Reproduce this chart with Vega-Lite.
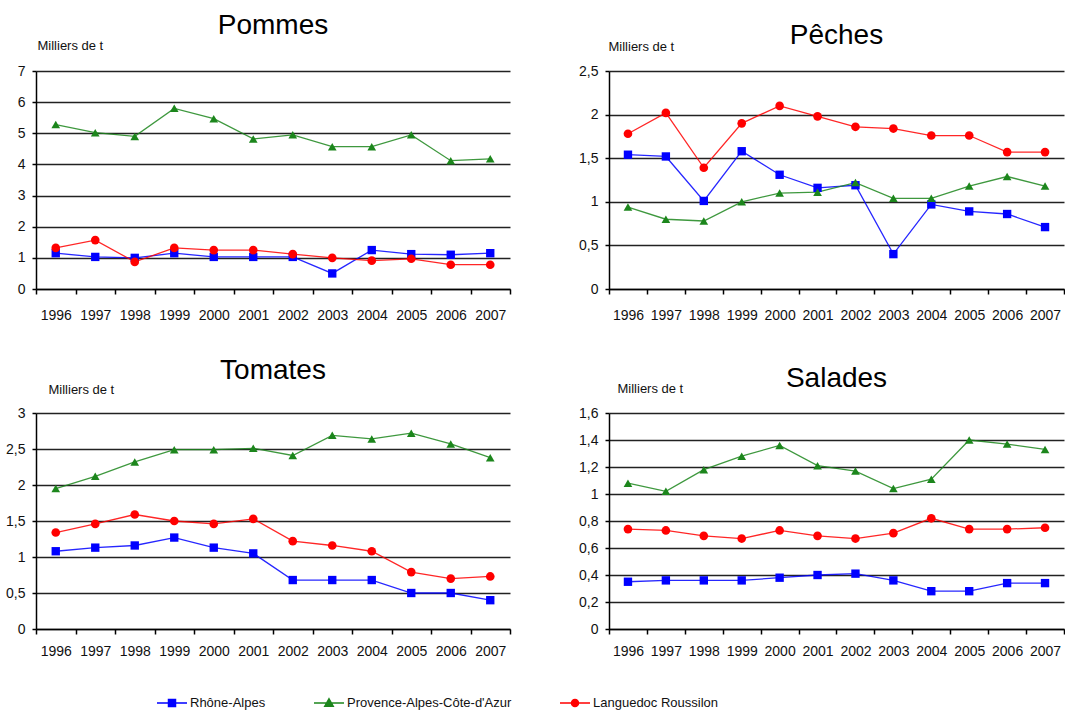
{
"$schema": "https://vega.github.io/schema/vega-lite/v6.json",
"background": "white",
"padding": {"left": 5, "top": 12, "right": 0, "bottom": 5},
"bounds": "flush",
"columns": 2,
"spacing": {"row": 124, "column": 99},
"data": {"values": [
{"f":"Pommes","r":"Rhône-Alpes","a":"1996","v":1.15},{"f":"Pommes","r":"Rhône-Alpes","a":"1997","v":1.03},{"f":"Pommes","r":"Rhône-Alpes","a":"1998","v":1.0},{"f":"Pommes","r":"Rhône-Alpes","a":"1999","v":1.15},{"f":"Pommes","r":"Rhône-Alpes","a":"2000","v":1.03},{"f":"Pommes","r":"Rhône-Alpes","a":"2001","v":1.03},{"f":"Pommes","r":"Rhône-Alpes","a":"2002","v":1.03},{"f":"Pommes","r":"Rhône-Alpes","a":"2003","v":0.5},{"f":"Pommes","r":"Rhône-Alpes","a":"2004","v":1.25},{"f":"Pommes","r":"Rhône-Alpes","a":"2005","v":1.12},{"f":"Pommes","r":"Rhône-Alpes","a":"2006","v":1.1},{"f":"Pommes","r":"Rhône-Alpes","a":"2007","v":1.15},
{"f":"Pommes","r":"Provence-Alpes-Côte-d'Azur","a":"1996","v":5.28},{"f":"Pommes","r":"Provence-Alpes-Côte-d'Azur","a":"1997","v":5.02},{"f":"Pommes","r":"Provence-Alpes-Côte-d'Azur","a":"1998","v":4.9},{"f":"Pommes","r":"Provence-Alpes-Côte-d'Azur","a":"1999","v":5.8},{"f":"Pommes","r":"Provence-Alpes-Côte-d'Azur","a":"2000","v":5.47},{"f":"Pommes","r":"Provence-Alpes-Côte-d'Azur","a":"2001","v":4.82},{"f":"Pommes","r":"Provence-Alpes-Côte-d'Azur","a":"2002","v":4.95},{"f":"Pommes","r":"Provence-Alpes-Côte-d'Azur","a":"2003","v":4.57},{"f":"Pommes","r":"Provence-Alpes-Côte-d'Azur","a":"2004","v":4.57},{"f":"Pommes","r":"Provence-Alpes-Côte-d'Azur","a":"2005","v":4.95},{"f":"Pommes","r":"Provence-Alpes-Côte-d'Azur","a":"2006","v":4.12},{"f":"Pommes","r":"Provence-Alpes-Côte-d'Azur","a":"2007","v":4.18},
{"f":"Pommes","r":"Languedoc Roussilon","a":"1996","v":1.32},{"f":"Pommes","r":"Languedoc Roussilon","a":"1997","v":1.57},{"f":"Pommes","r":"Languedoc Roussilon","a":"1998","v":0.87},{"f":"Pommes","r":"Languedoc Roussilon","a":"1999","v":1.32},{"f":"Pommes","r":"Languedoc Roussilon","a":"2000","v":1.25},{"f":"Pommes","r":"Languedoc Roussilon","a":"2001","v":1.25},{"f":"Pommes","r":"Languedoc Roussilon","a":"2002","v":1.12},{"f":"Pommes","r":"Languedoc Roussilon","a":"2003","v":1.0},{"f":"Pommes","r":"Languedoc Roussilon","a":"2004","v":0.91},{"f":"Pommes","r":"Languedoc Roussilon","a":"2005","v":0.97},{"f":"Pommes","r":"Languedoc Roussilon","a":"2006","v":0.78},{"f":"Pommes","r":"Languedoc Roussilon","a":"2007","v":0.78},
{"f":"Pêches","r":"Rhône-Alpes","a":"1996","v":1.54},{"f":"Pêches","r":"Rhône-Alpes","a":"1997","v":1.52},{"f":"Pêches","r":"Rhône-Alpes","a":"1998","v":1.01},{"f":"Pêches","r":"Rhône-Alpes","a":"1999","v":1.58},{"f":"Pêches","r":"Rhône-Alpes","a":"2000","v":1.31},{"f":"Pêches","r":"Rhône-Alpes","a":"2001","v":1.16},{"f":"Pêches","r":"Rhône-Alpes","a":"2002","v":1.19},{"f":"Pêches","r":"Rhône-Alpes","a":"2003","v":0.4},{"f":"Pêches","r":"Rhône-Alpes","a":"2004","v":0.97},{"f":"Pêches","r":"Rhône-Alpes","a":"2005","v":0.89},{"f":"Pêches","r":"Rhône-Alpes","a":"2006","v":0.86},{"f":"Pêches","r":"Rhône-Alpes","a":"2007","v":0.71},
{"f":"Pêches","r":"Provence-Alpes-Côte-d'Azur","a":"1996","v":0.94},{"f":"Pêches","r":"Provence-Alpes-Côte-d'Azur","a":"1997","v":0.8},{"f":"Pêches","r":"Provence-Alpes-Côte-d'Azur","a":"1998","v":0.78},{"f":"Pêches","r":"Provence-Alpes-Côte-d'Azur","a":"1999","v":1.0},{"f":"Pêches","r":"Provence-Alpes-Côte-d'Azur","a":"2000","v":1.1},{"f":"Pêches","r":"Provence-Alpes-Côte-d'Azur","a":"2001","v":1.11},{"f":"Pêches","r":"Provence-Alpes-Côte-d'Azur","a":"2002","v":1.22},{"f":"Pêches","r":"Provence-Alpes-Côte-d'Azur","a":"2003","v":1.04},{"f":"Pêches","r":"Provence-Alpes-Côte-d'Azur","a":"2004","v":1.04},{"f":"Pêches","r":"Provence-Alpes-Côte-d'Azur","a":"2005","v":1.18},{"f":"Pêches","r":"Provence-Alpes-Côte-d'Azur","a":"2006","v":1.29},{"f":"Pêches","r":"Provence-Alpes-Côte-d'Azur","a":"2007","v":1.18},
{"f":"Pêches","r":"Languedoc Roussilon","a":"1996","v":1.78},{"f":"Pêches","r":"Languedoc Roussilon","a":"1997","v":2.02},{"f":"Pêches","r":"Languedoc Roussilon","a":"1998","v":1.39},{"f":"Pêches","r":"Languedoc Roussilon","a":"1999","v":1.9},{"f":"Pêches","r":"Languedoc Roussilon","a":"2000","v":2.1},{"f":"Pêches","r":"Languedoc Roussilon","a":"2001","v":1.98},{"f":"Pêches","r":"Languedoc Roussilon","a":"2002","v":1.86},{"f":"Pêches","r":"Languedoc Roussilon","a":"2003","v":1.84},{"f":"Pêches","r":"Languedoc Roussilon","a":"2004","v":1.76},{"f":"Pêches","r":"Languedoc Roussilon","a":"2005","v":1.76},{"f":"Pêches","r":"Languedoc Roussilon","a":"2006","v":1.57},{"f":"Pêches","r":"Languedoc Roussilon","a":"2007","v":1.57},
{"f":"Tomates","r":"Rhône-Alpes","a":"1996","v":1.08},{"f":"Tomates","r":"Rhône-Alpes","a":"1997","v":1.13},{"f":"Tomates","r":"Rhône-Alpes","a":"1998","v":1.16},{"f":"Tomates","r":"Rhône-Alpes","a":"1999","v":1.27},{"f":"Tomates","r":"Rhône-Alpes","a":"2000","v":1.13},{"f":"Tomates","r":"Rhône-Alpes","a":"2001","v":1.05},{"f":"Tomates","r":"Rhône-Alpes","a":"2002","v":0.68},{"f":"Tomates","r":"Rhône-Alpes","a":"2003","v":0.68},{"f":"Tomates","r":"Rhône-Alpes","a":"2004","v":0.68},{"f":"Tomates","r":"Rhône-Alpes","a":"2005","v":0.5},{"f":"Tomates","r":"Rhône-Alpes","a":"2006","v":0.5},{"f":"Tomates","r":"Rhône-Alpes","a":"2007","v":0.4},
{"f":"Tomates","r":"Provence-Alpes-Côte-d'Azur","a":"1996","v":1.95},{"f":"Tomates","r":"Provence-Alpes-Côte-d'Azur","a":"1997","v":2.12},{"f":"Tomates","r":"Provence-Alpes-Côte-d'Azur","a":"1998","v":2.32},{"f":"Tomates","r":"Provence-Alpes-Côte-d'Azur","a":"1999","v":2.49},{"f":"Tomates","r":"Provence-Alpes-Côte-d'Azur","a":"2000","v":2.49},{"f":"Tomates","r":"Provence-Alpes-Côte-d'Azur","a":"2001","v":2.51},{"f":"Tomates","r":"Provence-Alpes-Côte-d'Azur","a":"2002","v":2.41},{"f":"Tomates","r":"Provence-Alpes-Côte-d'Azur","a":"2003","v":2.69},{"f":"Tomates","r":"Provence-Alpes-Côte-d'Azur","a":"2004","v":2.64},{"f":"Tomates","r":"Provence-Alpes-Côte-d'Azur","a":"2005","v":2.72},{"f":"Tomates","r":"Provence-Alpes-Côte-d'Azur","a":"2006","v":2.57},{"f":"Tomates","r":"Provence-Alpes-Côte-d'Azur","a":"2007","v":2.38},
{"f":"Tomates","r":"Languedoc Roussilon","a":"1996","v":1.34},{"f":"Tomates","r":"Languedoc Roussilon","a":"1997","v":1.46},{"f":"Tomates","r":"Languedoc Roussilon","a":"1998","v":1.59},{"f":"Tomates","r":"Languedoc Roussilon","a":"1999","v":1.5},{"f":"Tomates","r":"Languedoc Roussilon","a":"2000","v":1.46},{"f":"Tomates","r":"Languedoc Roussilon","a":"2001","v":1.53},{"f":"Tomates","r":"Languedoc Roussilon","a":"2002","v":1.22},{"f":"Tomates","r":"Languedoc Roussilon","a":"2003","v":1.16},{"f":"Tomates","r":"Languedoc Roussilon","a":"2004","v":1.08},{"f":"Tomates","r":"Languedoc Roussilon","a":"2005","v":0.79},{"f":"Tomates","r":"Languedoc Roussilon","a":"2006","v":0.7},{"f":"Tomates","r":"Languedoc Roussilon","a":"2007","v":0.73},
{"f":"Salades","r":"Rhône-Alpes","a":"1996","v":0.35},{"f":"Salades","r":"Rhône-Alpes","a":"1997","v":0.36},{"f":"Salades","r":"Rhône-Alpes","a":"1998","v":0.36},{"f":"Salades","r":"Rhône-Alpes","a":"1999","v":0.36},{"f":"Salades","r":"Rhône-Alpes","a":"2000","v":0.38},{"f":"Salades","r":"Rhône-Alpes","a":"2001","v":0.4},{"f":"Salades","r":"Rhône-Alpes","a":"2002","v":0.41},{"f":"Salades","r":"Rhône-Alpes","a":"2003","v":0.36},{"f":"Salades","r":"Rhône-Alpes","a":"2004","v":0.28},{"f":"Salades","r":"Rhône-Alpes","a":"2005","v":0.28},{"f":"Salades","r":"Rhône-Alpes","a":"2006","v":0.34},{"f":"Salades","r":"Rhône-Alpes","a":"2007","v":0.34},
{"f":"Salades","r":"Provence-Alpes-Côte-d'Azur","a":"1996","v":1.08},{"f":"Salades","r":"Provence-Alpes-Côte-d'Azur","a":"1997","v":1.02},{"f":"Salades","r":"Provence-Alpes-Côte-d'Azur","a":"1998","v":1.18},{"f":"Salades","r":"Provence-Alpes-Côte-d'Azur","a":"1999","v":1.28},{"f":"Salades","r":"Provence-Alpes-Côte-d'Azur","a":"2000","v":1.36},{"f":"Salades","r":"Provence-Alpes-Côte-d'Azur","a":"2001","v":1.21},{"f":"Salades","r":"Provence-Alpes-Côte-d'Azur","a":"2002","v":1.17},{"f":"Salades","r":"Provence-Alpes-Côte-d'Azur","a":"2003","v":1.04},{"f":"Salades","r":"Provence-Alpes-Côte-d'Azur","a":"2004","v":1.11},{"f":"Salades","r":"Provence-Alpes-Côte-d'Azur","a":"2005","v":1.4},{"f":"Salades","r":"Provence-Alpes-Côte-d'Azur","a":"2006","v":1.37},{"f":"Salades","r":"Provence-Alpes-Côte-d'Azur","a":"2007","v":1.33},
{"f":"Salades","r":"Languedoc Roussilon","a":"1996","v":0.74},{"f":"Salades","r":"Languedoc Roussilon","a":"1997","v":0.73},{"f":"Salades","r":"Languedoc Roussilon","a":"1998","v":0.69},{"f":"Salades","r":"Languedoc Roussilon","a":"1999","v":0.67},{"f":"Salades","r":"Languedoc Roussilon","a":"2000","v":0.73},{"f":"Salades","r":"Languedoc Roussilon","a":"2001","v":0.69},{"f":"Salades","r":"Languedoc Roussilon","a":"2002","v":0.67},{"f":"Salades","r":"Languedoc Roussilon","a":"2003","v":0.71},{"f":"Salades","r":"Languedoc Roussilon","a":"2004","v":0.82},{"f":"Salades","r":"Languedoc Roussilon","a":"2005","v":0.74},{"f":"Salades","r":"Languedoc Roussilon","a":"2006","v":0.74},{"f":"Salades","r":"Languedoc Roussilon","a":"2007","v":0.75}
]},
"config": {
  "font": "Liberation Sans",
  "view": {"stroke": null},
  "axis": {"labelFont": "Liberation Sans", "titleFont": "Liberation Sans", "labelColor": "#111", "titleColor": "#111", "domainColor": "#000", "tickColor": "#000", "domainWidth": 1.5, "tickWidth": 1.5},
  "axisX": {"labelAngle": 0, "tickBand": "extent", "grid": false, "labelFontSize": 14, "labelPadding": 10, "tickSize": 5},
  "axisY": {"grid": true, "gridColor": "#222", "gridWidth": 1.5, "gridOpacity": 1, "labelFontSize": 14, "labelPadding": 7, "tickSize": 4, "titleAngle": 0, "titleAlign": "left", "titleBaseline": "alphabetic", "titleFontSize": 13, "titleFontWeight": "normal"},
  "title": {"font": "Liberation Sans", "fontSize": 28, "fontWeight": "normal", "color": "#000", "anchor": "middle", "baseline": "alphabetic"}
},
"concat": [
{
 "width": 474, "height": 218,
 "title": {"text": "Pommes", "offset": -1},
 "transform": [{"filter": "datum.f === 'Pommes'"}],
 "encoding": {
  "x": {"field": "a", "type": "ordinal", "scale": {"type": "band", "paddingInner": 0, "paddingOuter": 0}, "axis": {"title": null, "labelPadding": 14}},
  "y": {"field": "v", "type": "quantitative", "scale": {"domain": [0, 7], "nice": false}, "axis": {"values": [0,1,2,3,4,5,6,7], "format": ".1~f", "labelExpr": "replace(datum.label, '.', ',')", "title": "Milliers de t", "titleX": 1, "titleY": -22}},
  "color": {"field": "r", "type": "nominal", "scale": {"domain": ["Rhône-Alpes", "Provence-Alpes-Côte-d'Azur", "Languedoc Roussilon"], "range": ["#0000ff", "#1c861c", "#ff0000"]},
   "legend": {"orient": "none", "legendX": 125, "legendY": 621, "direction": "horizontal", "title": null, "symbolSize": 400, "symbolOpacity": 1, "labelOffset": 7, "columnPadding": 45, "labelFontSize": 13, "labelLimit": 400, "labelFont": "Liberation Sans", "labelColor": "#111",
    "encode": {"symbols": {"update": {"shape": {"signal": "datum.value === 'Rhône-Alpes' ? 'M-1.5,0H1.5M-0.35,-0.35H0.35V0.35H-0.35Z' : datum.value === 'Languedoc Roussilon' ? 'M-1.5,0H1.5M-0.35,0A0.35,0.35,0,1,1,0.35,0A0.35,0.35,0,1,1,-0.35,0Z' : 'M-1.5,0H1.5M0,-0.42L0.42,0.32H-0.42Z'"}, "strokeWidth": {"value": 1.5}}}}}}
 },
 "layer": [
  {"mark": {"type": "line", "strokeWidth": 1.3, "opacity": 0.85}},
  {"transform": [{"filter": "datum.r === 'Rhône-Alpes'"}], "mark": {"type": "point", "shape": "square", "filled": true, "opacity": 1, "size": 70}},
  {"transform": [{"filter": "datum.r === 'Languedoc Roussilon'"}], "mark": {"type": "point", "shape": "circle", "filled": true, "opacity": 1, "size": 75}},
  {"transform": [{"filter": "datum.r !== 'Rhône-Alpes' && datum.r !== 'Languedoc Roussilon'"}], "mark": {"type": "point", "shape": "triangle-up", "filled": true, "opacity": 1, "size": 75}}
 ]
},
{
 "width": 455, "height": 218,
 "title": {"text": "Pêches", "offset": -10},
 "transform": [{"filter": "datum.f === 'Pêches'"}],
 "encoding": {
  "x": {"field": "a", "type": "ordinal", "scale": {"type": "band", "paddingInner": 0, "paddingOuter": 0}, "axis": {"title": null, "labelPadding": 14}},
  "y": {"field": "v", "type": "quantitative", "scale": {"domain": [0, 2.5], "nice": false}, "axis": {"values": [0,0.5,1,1.5,2,2.5], "format": ".1~f", "labelExpr": "replace(datum.label, '.', ',')", "title": "Milliers de t", "titleX": -1, "titleY": -21}},
  "color": {"field": "r", "type": "nominal", "scale": {"domain": ["Rhône-Alpes", "Provence-Alpes-Côte-d'Azur", "Languedoc Roussilon"], "range": ["#0000ff", "#1c861c", "#ff0000"]},
   "legend": {"orient": "none", "legendX": 125, "legendY": 621, "direction": "horizontal", "title": null, "symbolSize": 400, "symbolOpacity": 1, "labelOffset": 7, "columnPadding": 45, "labelFontSize": 13, "labelLimit": 400, "labelFont": "Liberation Sans", "labelColor": "#111",
    "encode": {"symbols": {"update": {"shape": {"signal": "datum.value === 'Rhône-Alpes' ? 'M-1.5,0H1.5M-0.35,-0.35H0.35V0.35H-0.35Z' : datum.value === 'Languedoc Roussilon' ? 'M-1.5,0H1.5M-0.35,0A0.35,0.35,0,1,1,0.35,0A0.35,0.35,0,1,1,-0.35,0Z' : 'M-1.5,0H1.5M0,-0.42L0.42,0.32H-0.42Z'"}, "strokeWidth": {"value": 1.5}}}}}}
 },
 "layer": [
  {"mark": {"type": "line", "strokeWidth": 1.3, "opacity": 0.85}},
  {"transform": [{"filter": "datum.r === 'Rhône-Alpes'"}], "mark": {"type": "point", "shape": "square", "filled": true, "opacity": 1, "size": 70}},
  {"transform": [{"filter": "datum.r === 'Languedoc Roussilon'"}], "mark": {"type": "point", "shape": "circle", "filled": true, "opacity": 1, "size": 75}},
  {"transform": [{"filter": "datum.r !== 'Rhône-Alpes' && datum.r !== 'Languedoc Roussilon'"}], "mark": {"type": "point", "shape": "triangle-up", "filled": true, "opacity": 1, "size": 75}}
 ]
},
{
 "width": 474, "height": 216,
 "title": {"text": "Tomates", "offset": -2},
 "transform": [{"filter": "datum.f === 'Tomates'"}],
 "encoding": {
  "x": {"field": "a", "type": "ordinal", "scale": {"type": "band", "paddingInner": 0, "paddingOuter": 0}, "axis": {"title": null}},
  "y": {"field": "v", "type": "quantitative", "scale": {"domain": [0, 3], "nice": false}, "axis": {"values": [0,0.5,1,1.5,2,2.5,3], "format": ".1~f", "labelExpr": "replace(datum.label, '.', ',')", "title": "Milliers de t", "titleX": 12, "titleY": -20}},
  "color": {"field": "r", "type": "nominal", "scale": {"domain": ["Rhône-Alpes", "Provence-Alpes-Côte-d'Azur", "Languedoc Roussilon"], "range": ["#0000ff", "#1c861c", "#ff0000"]},
   "legend": {"orient": "none", "legendX": 125, "legendY": 621, "direction": "horizontal", "title": null, "symbolSize": 400, "symbolOpacity": 1, "labelOffset": 7, "columnPadding": 45, "labelFontSize": 13, "labelLimit": 400, "labelFont": "Liberation Sans", "labelColor": "#111",
    "encode": {"symbols": {"update": {"shape": {"signal": "datum.value === 'Rhône-Alpes' ? 'M-1.5,0H1.5M-0.35,-0.35H0.35V0.35H-0.35Z' : datum.value === 'Languedoc Roussilon' ? 'M-1.5,0H1.5M-0.35,0A0.35,0.35,0,1,1,0.35,0A0.35,0.35,0,1,1,-0.35,0Z' : 'M-1.5,0H1.5M0,-0.42L0.42,0.32H-0.42Z'"}, "strokeWidth": {"value": 1.5}}}}}}
 },
 "layer": [
  {"mark": {"type": "line", "strokeWidth": 1.3, "opacity": 0.85}},
  {"transform": [{"filter": "datum.r === 'Rhône-Alpes'"}], "mark": {"type": "point", "shape": "square", "filled": true, "opacity": 1, "size": 70}},
  {"transform": [{"filter": "datum.r === 'Languedoc Roussilon'"}], "mark": {"type": "point", "shape": "circle", "filled": true, "opacity": 1, "size": 75}},
  {"transform": [{"filter": "datum.r !== 'Rhône-Alpes' && datum.r !== 'Languedoc Roussilon'"}], "mark": {"type": "point", "shape": "triangle-up", "filled": true, "opacity": 1, "size": 75}}
 ]
},
{
 "width": 455, "height": 216,
 "title": {"text": "Salades", "offset": -11},
 "transform": [{"filter": "datum.f === 'Salades'"}],
 "encoding": {
  "x": {"field": "a", "type": "ordinal", "scale": {"type": "band", "paddingInner": 0, "paddingOuter": 0}, "axis": {"title": null}},
  "y": {"field": "v", "type": "quantitative", "scale": {"domain": [0, 1.6], "nice": false}, "axis": {"values": [0,0.2,0.4,0.6,0.8,1,1.2,1.4,1.6], "format": ".1~f", "labelExpr": "replace(datum.label, '.', ',')", "title": "Milliers de t", "titleX": 8, "titleY": -21}},
  "color": {"field": "r", "type": "nominal", "scale": {"domain": ["Rhône-Alpes", "Provence-Alpes-Côte-d'Azur", "Languedoc Roussilon"], "range": ["#0000ff", "#1c861c", "#ff0000"]},
   "legend": {"orient": "none", "legendX": 125, "legendY": 621, "direction": "horizontal", "title": null, "symbolSize": 400, "symbolOpacity": 1, "labelOffset": 7, "columnPadding": 45, "labelFontSize": 13, "labelLimit": 400, "labelFont": "Liberation Sans", "labelColor": "#111",
    "encode": {"symbols": {"update": {"shape": {"signal": "datum.value === 'Rhône-Alpes' ? 'M-1.5,0H1.5M-0.35,-0.35H0.35V0.35H-0.35Z' : datum.value === 'Languedoc Roussilon' ? 'M-1.5,0H1.5M-0.35,0A0.35,0.35,0,1,1,0.35,0A0.35,0.35,0,1,1,-0.35,0Z' : 'M-1.5,0H1.5M0,-0.42L0.42,0.32H-0.42Z'"}, "strokeWidth": {"value": 1.5}}}}}}
 },
 "layer": [
  {"mark": {"type": "line", "strokeWidth": 1.3, "opacity": 0.85}},
  {"transform": [{"filter": "datum.r === 'Rhône-Alpes'"}], "mark": {"type": "point", "shape": "square", "filled": true, "opacity": 1, "size": 70}},
  {"transform": [{"filter": "datum.r === 'Languedoc Roussilon'"}], "mark": {"type": "point", "shape": "circle", "filled": true, "opacity": 1, "size": 75}},
  {"transform": [{"filter": "datum.r !== 'Rhône-Alpes' && datum.r !== 'Languedoc Roussilon'"}], "mark": {"type": "point", "shape": "triangle-up", "filled": true, "opacity": 1, "size": 75}}
 ]
}
]
}
